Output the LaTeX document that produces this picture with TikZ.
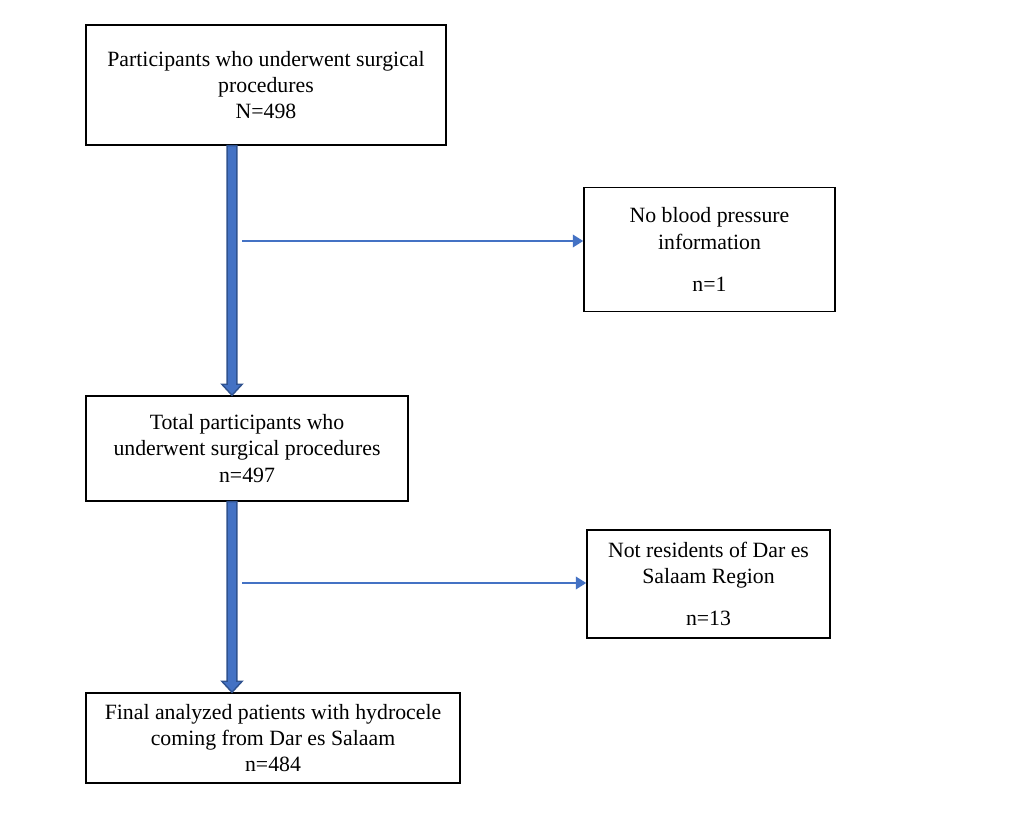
\documentclass[tikz,border=0pt]{standalone}
\usepackage{fontspec}
\setmainfont{Liberation Serif}
\usepackage{tikz}
\usetikzlibrary{arrows.meta,calc}
\definecolor{wblue}{RGB}{68,114,196}
\definecolor{wdark}{RGB}{47,82,143}

\tikzset{
  box/.style={draw,line width=0.8pt,align=center,inner sep=2pt},
  thin/.style={wblue,line width=1.5pt,-{Triangle[length=6pt,width=7pt]}},
  fat/.style={fill=wblue,draw=wdark,line width=0.8pt,
    to path={let \p1=(\tikztostart),\p2=(\tikztotarget) in
      (\x1-2.8pt,\y1) -- (\x1-2.8pt,\y2+6.3pt) -- (\x1-5.8pt,\y2+6.3pt) -- (\x1,\y2)
      -- (\x1+5.8pt,\y2+6.3pt) -- (\x1+2.8pt,\y2+6.3pt) -- (\x1+2.8pt,\y1) -- cycle}}
}

\begin{document}
\begin{tikzpicture}[x=0.02cm,y=-0.02cm,font=\fontsize{12.4}{15}\selectfont]
  \useasboundingbox (0,0) rectangle (1028,834);

  \node[box,minimum width=7.2cm,minimum height=2.4cm] (parts) at (266,85)
    {Participants who underwent surgical\\procedures\\N=498};
  \node[box,minimum width=5.02cm,minimum height=2.48cm] (nobp) at (709.5,249.5)
    {No blood pressure\\information\\[9pt]n=1};
  \node[box,minimum width=6.44cm,minimum height=2.1cm] (total) at (247,448.5)
    {Total participants who\\underwent surgical procedures\\n=497};
  \node[box,minimum width=4.86cm,minimum height=2.16cm] (nonres) at (708.5,584)
    {Not residents of Dar es\\Salaam Region\\[9pt]n=13};
  \node[box,minimum width=7.48cm,minimum height=1.8cm] (final) at (273,738)
    {Final analyzed patients with hydrocele\\coming from Dar es Salaam\\n=484};

  % thick flow arrows
  \draw[fat] (parts.south -| 232,0) to (total.north -| 232,0);
  \draw[fat] (total.south -| 232,0) to (final.north -| 232,0);

  % exclusions
  \coordinate (c1) at (242,241);
  \coordinate (c2) at (242,583);
  \draw[thin] (c1) -- (c1 -| nobp.west);
  \draw[thin] (c2) -- (c2 -| nonres.west);
\end{tikzpicture}
\end{document}
